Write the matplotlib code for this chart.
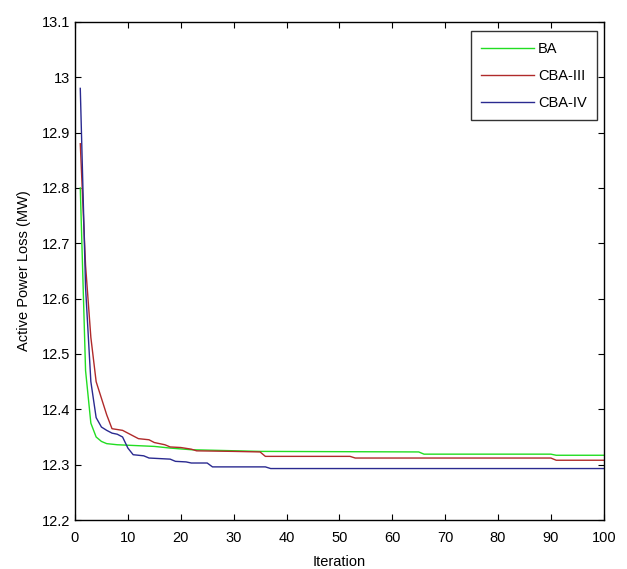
import numpy as np
import matplotlib
matplotlib.use("Agg")
import matplotlib.pyplot as plt

plt.rcParams['font.family'] = ['Liberation Sans', 'DejaVu Sans']

# breakpoints (iteration, loss in MW)
ba_iter = [1, 2, 3, 4, 5, 6, 8, 15, 18, 22, 35, 65, 66, 90, 91, 100]
ba_loss = [12.80, 12.47, 12.375, 12.35, 12.342, 12.338, 12.336, 12.333, 12.33,
           12.327, 12.324, 12.323, 12.319, 12.319, 12.317, 12.317]

cba3_iter = [1, 2, 3, 4, 5, 6, 7, 9, 10, 11, 12, 14, 15, 17, 18, 20, 22, 23,
             30, 35, 36, 52, 53, 90, 91, 100]
cba3_loss = [12.88, 12.66, 12.53, 12.45, 12.42, 12.39, 12.365, 12.362, 12.357,
             12.352, 12.347, 12.345, 12.34, 12.336, 12.332, 12.331, 12.328,
             12.325, 12.324, 12.323, 12.315, 12.315, 12.312, 12.312, 12.308,
             12.308]

cba4_iter = [1, 2, 3, 4, 5, 6, 7, 8, 9, 10, 11, 13, 14, 18, 19, 21, 22, 25,
             26, 36, 37, 100]
cba4_loss = [12.98, 12.62, 12.45, 12.385, 12.368, 12.362, 12.357, 12.355,
             12.35, 12.33, 12.318, 12.316, 12.312, 12.31, 12.306, 12.305,
             12.303, 12.303, 12.296, 12.296, 12.293, 12.293]

xticks = np.arange(0, 101, 10)
yticks = [12.2, 12.3, 12.4, 12.5, 12.6, 12.7, 12.8, 12.9, 13.0, 13.1]
yticklabels = ['12.2', '12.3', '12.4', '12.5', '12.6', '12.7', '12.8', '12.9', '13', '13.1']

fig = plt.figure(figsize=(6.27, 5.69), dpi=100)
ax = fig.add_axes([0.1196, 0.0861, 0.8434, 0.8753])

ax.plot(ba_iter, ba_loss, color='#22dd22', lw=1.0, label='BA')
ax.plot(cba3_iter, cba3_loss, color='#b02a2a', lw=1.0, label='CBA-III')
ax.plot(cba4_iter, cba4_loss, color='#2a2a90', lw=1.0, label='CBA-IV')

ax.set_xlim(0, 100)
ax.set_ylim(12.2, 13.1)
ax.set_xticks(xticks)
ax.set_yticks(yticks)
ax.set_yticklabels(yticklabels)
ax.tick_params(direction='in', top=True, right=True, labelsize=10.5, length=4,
               colors='black')
ax.tick_params(axis='x', pad=8)
for s in ax.spines.values():
    s.set_linewidth(1.0)

ax.set_xlabel('Iteration', fontsize=10.5, labelpad=7)
ax.set_ylabel('Active Power Loss (MW)', fontsize=10.5, labelpad=8)

leg = ax.legend(loc='upper right', bbox_to_anchor=(0.9875, 0.981), fontsize=10.5,
                frameon=True, fancybox=False, edgecolor='black', handlelength=3.6,
                handletextpad=0.3, borderpad=0.7, labelspacing=0.9,
                borderaxespad=0)
leg.get_frame().set_linewidth(1.0)

fig.savefig('out.png', dpi=100, facecolor='white')
